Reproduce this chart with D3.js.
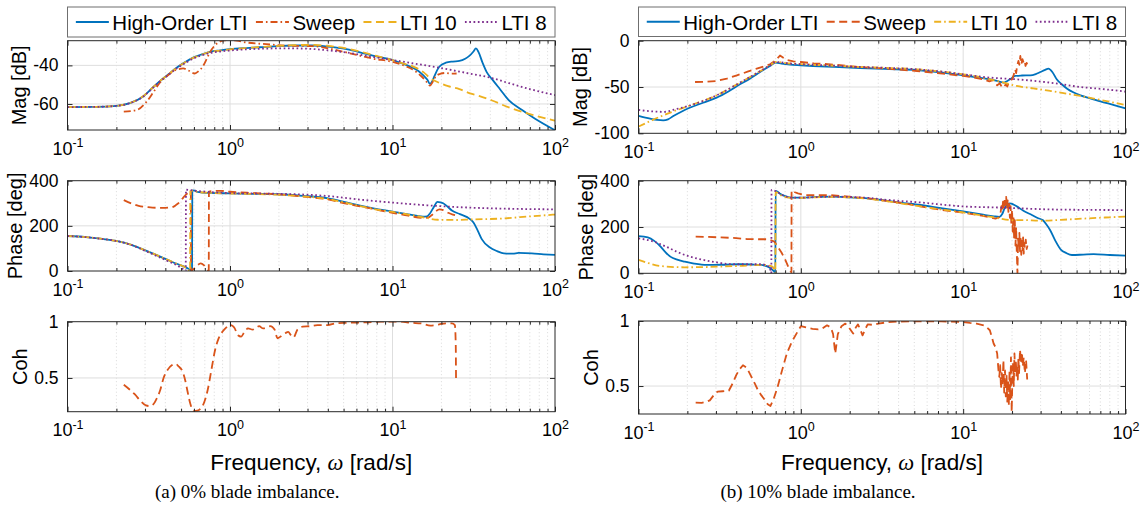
<!DOCTYPE html>
<html><head><meta charset="utf-8">
<script src="https://cdn.jsdelivr.net/npm/d3@7"></script>
<style>
html,body{margin:0;padding:0;background:#fff;}
svg{display:block;font-family:"Liberation Sans",Arial,Helvetica,sans-serif;}
</style></head><body>
<svg id="fig" width="1145" height="511"></svg>
<script>
// ---------- axis ticks and labels ----------
const FREQ_TICKS = [0.1, 1, 10, 100];
const FREQ_EXPONENTS = ["-1", "0", "1", "2"];
const MAG_A_TICKS = [-60, -40];
const MAG_B_TICKS = [-100, -50, 0];
const PHASE_TICKS = [0, 200, 400];
const COH_TICKS = [0.5, 1];
const LEGEND_LABELS = ["High-Order LTI", "Sweep", "LTI 10", "LTI 8"];
const CAPTIONS = ["(a) 0% blade imbalance.", "(b) 10% blade imbalance."];

// ---------- (a) 0% imbalance: [frequency rad/s, value] ----------
const magA_hi = [[0.1,-61.6],[0.15,-61.5],[0.2,-61.0],[0.242,-59.6],[0.292,-56.1],[0.33,-52],[0.37,-48.2],[0.42,-44.5],[0.469,-41.2],[0.53,-38.3],[0.593,-36],[0.67,-34.3],[0.751,-33],[0.87,-32.2],[1,-31.6],[1.25,-31],[1.52,-30.6],[2.0,-30],[2.5,-29.7],[3.2,-29.7],[4.0,-30.3],[5.2,-31.6],[6.3,-33.2],[7.56,-35.0],[10,-37.2],[12,-39.6],[13.3,-41.2],[14.5,-43],[15.5,-45.2],[16.4,-47.5],[17.0,-49.6],[17.5,-48.5],[18.1,-45.6],[19.4,-40.7],[21.3,-38.6],[23.5,-38],[25.8,-37.7],[28,-36.6],[29.7,-35.1],[31.5,-32.8],[32.6,-31.2],[33.8,-33],[35.8,-38.6],[38,-43.5],[41.2,-47.4],[46,-52.5],[51.7,-57.9],[62.4,-63],[75,-67.5],[100,-73.6]];
const magA_sw = [[0.222,-64],[0.266,-63.2],[0.307,-58.8],[0.34,-53.5],[0.37,-49],[0.41,-45.5],[0.447,-43],[0.48,-42],[0.515,-41.6],[0.56,-42.8],[0.607,-44.2],[0.64,-43],[0.682,-40.4],[0.72,-36.5],[0.751,-33.3],[0.8,-30],[0.864,-27.7],[0.93,-27],[1,-26.8],[1.1,-27.2],[1.26,-28.1],[1.67,-29],[2.3,-29.8],[3.2,-30],[4.2,-31.5],[5.2,-33.3],[6.3,-35],[7.6,-36.5],[10,-38.2],[11.5,-39.8],[13.3,-42.1],[15,-45.5],[16.3,-48.8],[17,-50.5],[17.7,-48.5],[18.5,-45.6],[19.8,-44.3],[21.3,-43.9],[23,-44.3],[24.8,-44.2]];
const magA_l10 = [[0.1,-61.6],[0.15,-61.5],[0.2,-61.0],[0.242,-59.5],[0.292,-56],[0.33,-52],[0.37,-48.2],[0.42,-44.5],[0.469,-41.3],[0.53,-38.4],[0.593,-36.1],[0.67,-34.4],[0.751,-33.1],[0.87,-32.3],[1,-31.7],[1.25,-31],[1.52,-30.5],[2.0,-29.9],[2.5,-29.5],[3.2,-29.4],[4.0,-29.9],[5.2,-31.2],[6.3,-32.8],[7.56,-34.6],[10,-37.3],[12,-39.3],[13.3,-40.5],[15.5,-43.5],[17,-46.5],[19.4,-49],[22,-50.8],[25.8,-52.3],[30,-54.5],[34,-55.8],[41,-58.2],[52,-61.8],[70,-65.3],[100,-68.7]];
const magA_l8 = [[0.1,-61.6],[0.15,-61.5],[0.2,-61.0],[0.242,-59.6],[0.292,-56.2],[0.33,-52.2],[0.37,-48.4],[0.42,-44.8],[0.469,-41.6],[0.53,-38.8],[0.593,-36.5],[0.67,-34.8],[0.751,-33.6],[0.87,-32.8],[1,-32.3],[1.25,-31.7],[1.5,-31.4],[2.0,-31.2],[2.5,-31.2],[3.2,-31.5],[4.0,-32.2],[5.2,-33.3],[6.3,-34.5],[7.56,-35.6],[10,-37.2],[13.3,-38.9],[19.4,-41.2],[28,-43.8],[41,-46.6],[52,-49.2],[70,-52.3],[100,-55.4]];

const phA_hi = [[0.1,155],[0.13,150],[0.16,143],[0.2,133],[0.25,115],[0.304,90],[0.36,68],[0.414,49],[0.47,32],[0.536,16],[0.566,6],[0.584,1],[0.586,356],[0.6,357],[0.626,351],[0.75,346],[1,344],[1.4,342],[1.96,340],[2.8,333],[4.02,322],[5.2,304],[6.76,285],[8.2,273],[10,263],[12.5,251],[15.4,241],[16.3,242],[17,255],[18,285],[18.9,306],[19.7,304],[20.5,300],[21.8,285],[23.2,268],[26,252],[30,230],[31.5,215],[33.4,180],[35.5,140],[39.6,105],[44,88],[48.5,78],[55,77],[59.7,80],[72,78],[85,74],[100,71]];
const phA_sw = [[0.222,314],[0.25,298],[0.274,288],[0.31,283],[0.355,280],[0.4,280],[0.437,282],[0.465,292],[0.49,305],[0.52,328],[0.55,345],[0.574,352],[0.576,2],[0.6,10],[0.63,25],[0.66,34],[0.69,26],[0.72,8],[0.74,2],[0.742,352],[0.8,355],[0.88,355],[1,351],[1.43,345],[1.96,340],[2.8,330],[4,317],[5.2,298],[6.8,282],[8.2,270],[10,258],[12.5,245],[15.4,235],[16.5,236],[17.5,248],[18.5,265],[19.5,273],[20.5,270],[22,258],[23.5,250],[25,246]];
const phA_l10 = [[0.1,155],[0.13,150],[0.16,143],[0.2,133],[0.25,115],[0.304,90],[0.36,68],[0.414,49],[0.47,32],[0.536,14],[0.556,4],[0.568,1],[0.57,354],[0.6,356],[0.626,351],[0.75,346],[1,343],[1.4,341],[1.96,338],[2.8,331],[4.02,319],[5.2,302],[6.76,283],[8.2,271],[10,262],[12.5,250],[15.4,238],[19,227],[25,226],[30,228],[48.5,233],[70,242],[100,250]];
const phA_l8 = [[0.1,155],[0.13,150],[0.16,143],[0.2,133],[0.25,114],[0.304,88],[0.36,64],[0.414,44],[0.47,26],[0.51,10],[0.534,1],[0.536,360],[0.6,356],[0.75,350],[1,345],[1.96,342],[3,338],[4,332],[6.8,314],[10,303],[18.9,288],[31.6,280],[50,276],[100,273]];

const cohA_sw = [[0.222,0.44],[0.24,0.4],[0.26,0.353],[0.28,0.3],[0.304,0.256],[0.32,0.25],[0.337,0.265],[0.355,0.32],[0.373,0.397],[0.39,0.5],[0.414,0.574],[0.44,0.615],[0.46,0.626],[0.485,0.6],[0.51,0.559],[0.53,0.48],[0.55,0.368],[0.57,0.27],[0.595,0.206],[0.63,0.21],[0.677,0.25],[0.7,0.3],[0.73,0.397],[0.77,0.58],[0.81,0.75],[0.85,0.85],[0.9,0.912],[0.95,0.95],[1.0,0.97],[1.06,0.95],[1.12,0.88],[1.17,0.868],[1.23,0.91],[1.29,0.94],[1.38,0.93],[1.51,0.96],[1.6,0.94],[1.77,0.96],[1.88,0.93],[1.96,0.853],[2.1,0.88],[2.2,0.9],[2.28,0.91],[2.37,0.88],[2.46,0.86],[2.6,0.93],[2.8,0.956],[3.1,0.96],[3.45,0.97],[4,0.97],[4.46,0.985],[5.2,0.99],[6.8,0.994],[8.5,1.0],[11.3,1.0],[13,0.99],[15,0.985],[17.1,0.965],[18.5,0.97],[19.9,0.98],[21.5,0.985],[23.2,0.985],[24.2,0.97],[24.5,0.8],[24.6,0.5]];

// ---------- (b) 10% imbalance ----------
const magB_hi = [[0.1,-81.3],[0.118,-84.2],[0.13,-85.5],[0.142,-86],[0.152,-85],[0.164,-81.3],[0.18,-77.5],[0.203,-73],[0.25,-67],[0.303,-61.5],[0.36,-54.5],[0.422,-47.1],[0.48,-41.5],[0.535,-36.3],[0.6,-30.5],[0.646,-27.3],[0.70,-23.7],[0.76,-24.8],[0.857,-25.9],[1.0,-26.6],[1.19,-27.3],[1.6,-28.3],[2.32,-29.5],[3.3,-30.5],[5.2,-31.7],[7.5,-34.5],[10,-37.4],[12.5,-39.8],[14.7,-41.7],[16.5,-44],[17.8,-45.3],[18.7,-43.5],[19.5,-41.7],[20.9,-38.1],[23,-37.6],[25.9,-37.4],[28,-36],[29.9,-33.8],[32,-31.5],[33.5,-30.2],[35.5,-34],[37.7,-41.7],[40.5,-47],[43.7,-51.8],[48,-56],[52.8,-59],[60,-62],[70,-65.5],[85,-69.5],[100,-73]];
const magB_sw = [[0.223,-44.6],[0.26,-44.4],[0.303,-43.5],[0.35,-41],[0.404,-37.4],[0.47,-33.5],[0.535,-30.2],[0.6,-27.5],[0.646,-25.5],[0.7,-21],[0.744,-16],[0.78,-18.5],[0.82,-20.9],[0.9,-22.3],[1,-23],[1.2,-24.5],[1.52,-25.5],[2.32,-28.4],[3.3,-30],[5.2,-32.7],[7.5,-35.5],[10,-38.1],[11.5,-39.5],[13.3,-41.7],[14.5,-44],[15.2,-42.5],[16.2,-48.2],[16.8,-46],[17.3,-50],[17.8,-50.7],[18.3,-47],[18.7,-49.5],[19.1,-45.3],[19.6,-43],[20.0,-41.7],[20.4,-38],[20.9,-30.9],[21.2,-35],[21.5,-27],[21.9,-21.9],[22.2,-26],[22.5,-16.5],[22.8,-25.5],[23.2,-20],[23.6,-24],[24.0,-21.9],[24.2,-27.3],[24.6,-24],[24.9,-26]];
const magB_l10 = [[0.1,-92.8],[0.142,-80.6],[0.203,-70.5],[0.303,-59],[0.422,-45.3],[0.535,-35],[0.646,-26.6],[0.70,-23],[0.857,-24.6],[1,-25.3],[1.52,-26.8],[2.32,-28.4],[3.3,-29.3],[5.2,-30.9],[7.5,-33.5],[10,-36.3],[14.7,-41.7],[17.8,-45.3],[21.3,-48.9],[27,-51.5],[34.4,-54.3],[52.8,-59.7],[75,-65],[100,-69.4]];
const magB_l8 = [[0.1,-74.8],[0.125,-76.5],[0.145,-76.8],[0.165,-74.5],[0.203,-70.5],[0.303,-59],[0.422,-45.3],[0.535,-35],[0.646,-26.6],[0.70,-23],[0.857,-24.6],[1,-25.3],[1.52,-26.8],[2.32,-28.4],[3.3,-29.3],[5.2,-30.9],[7.5,-33.5],[10,-36.3],[14.7,-39.9],[21.3,-41.7],[34.4,-45.3],[52.8,-50],[75,-52.5],[100,-55]];

const phB_hi = [[0.1,161],[0.114,155],[0.125,140],[0.134,122],[0.145,95],[0.157,72],[0.175,58],[0.193,50],[0.22,42],[0.263,36],[0.33,37],[0.42,39],[0.5,38],[0.572,36],[0.62,30],[0.65,22],[0.68,10],[0.697,1],[0.699,356],[0.72,352],[0.74,345],[0.8,333],[0.87,327],[1,327],[1.2,329],[1.53,331],[2,328],[2.58,324],[3.09,317],[4.1,305],[5.44,295],[7.3,281],[10,267],[13,254],[15.5,246],[16.7,244],[17.4,256],[18,281],[19.4,302],[20.3,298],[21.5,288],[23.5,270],[26.5,252],[29,238],[30.9,230],[32.5,212],[34.3,187],[37,140],[40.1,101],[43,88],[46.8,79],[55,81],[63.6,83],[80,79],[100,76]];
const phB_sw = [[0.225,158],[0.27,157],[0.322,155],[0.4,152],[0.466,148],[0.55,147],[0.635,147],[0.687,137],[0.72,115],[0.76,90],[0.8,60],[0.84,25],[0.875,3],[0.877,358],[0.92,350],[0.96,345],[1.05,338],[1.53,338],[2.58,324],[3.09,316],[4.33,302],[5.44,289],[7.3,274],[10,262],[13,249],[15.8,236],[16.5,240],[16.8,245],[17.0,262],[17.2,290],[17.4,270],[17.6,310],[17.8,285],[18.0,325],[18.2,295],[18.4,330],[18.6,280],[18.8,315],[19.0,265],[19.2,300],[19.4,240],[19.6,290],[19.8,215],[20.0,275],[20.2,180],[20.4,250],[20.6,150],[20.8,230],[21.0,120],[21.2,200],[21.4,90],[21.6,0],[21.8,150],[22.0,110],[22.2,175],[22.4,95],[22.6,160],[22.8,80],[23.0,140],[23.2,100],[23.4,155],[23.6,85],[23.8,130],[24.0,110],[24.3,145],[24.6,105],[24.9,120]];
const phB_l10 = [[0.1,58],[0.115,44],[0.134,32],[0.193,26],[0.26,27],[0.322,29],[0.42,32],[0.572,36],[0.64,33],[0.67,28],[0.69,10],[0.697,1],[0.699,352],[0.74,340],[0.8,330],[0.87,326],[1,326],[1.53,330],[2.58,322],[3.09,315],[5.44,289],[7.3,276],[10,263],[13,250],[15.6,241],[16.7,237],[20,230],[22.7,230],[30.9,227],[40,231],[57.6,237],[80,242],[100,245]];
const phB_l8 = [[0.1,151],[0.12,140],[0.148,115],[0.17,95],[0.193,79],[0.22,67],[0.25,58],[0.3,48],[0.36,40],[0.45,39],[0.572,39],[0.62,33],[0.645,22],[0.658,1],[0.66,360],[0.7,355],[0.74,345],[0.8,333],[0.87,327],[1,327],[1.53,331],[2.58,326],[3.09,320],[5.44,306],[10,289],[16.7,284],[34,276],[60,274],[100,273]];

const cohB_sw = [[0.225,0.372],[0.245,0.37],[0.263,0.38],[0.275,0.39],[0.284,0.413],[0.295,0.44],[0.307,0.457],[0.33,0.46],[0.36,0.464],[0.38,0.52],[0.4,0.584],[0.42,0.63],[0.44,0.66],[0.465,0.64],[0.49,0.584],[0.52,0.52],[0.544,0.469],[0.57,0.43],[0.6,0.393],[0.625,0.36],[0.65,0.347],[0.68,0.4],[0.72,0.495],[0.77,0.63],[0.82,0.75],[0.88,0.84],[0.94,0.903],[1.0,0.96],[1.08,0.95],[1.18,0.94],[1.28,0.935],[1.35,0.94],[1.45,0.967],[1.53,0.95],[1.58,0.9],[1.63,0.75],[1.69,0.9],[1.78,0.96],[1.88,0.98],[1.98,0.95],[2.1,0.903],[2.18,0.95],[2.25,0.974],[2.33,0.93],[2.4,0.89],[2.5,0.94],[2.58,0.974],[2.8,0.97],[3.0,0.98],[3.4,0.99],[3.9,0.995],[5,0.997],[7.3,0.997],[10,0.992],[11,0.985],[12.1,0.98],[13.4,0.967],[14.0,0.95],[14.6,0.929],[15.0,0.88],[15.4,0.827],[15.8,0.8],[16.2,0.75],[16.5,0.62],[16.7,0.57],[16.9,0.66],[17.1,0.48],[17.3,0.6],[17.5,0.52],[17.7,0.7],[17.9,0.45],[18.1,0.62],[18.3,0.42],[18.5,0.58],[18.7,0.38],[18.9,0.55],[19.1,0.35],[19.3,0.62],[19.5,0.4],[19.7,0.72],[19.9,0.3],[20.1,0.55],[20.3,0.68],[20.5,0.5],[20.7,0.75],[20.9,0.6],[21.1,0.7],[21.3,0.58],[21.5,0.66],[21.7,0.55],[21.9,0.72],[22.1,0.6],[22.4,0.78],[22.7,0.68],[23.0,0.76],[23.3,0.65],[23.6,0.72],[24.0,0.6],[24.4,0.7],[24.8,0.55]];

// ---------- styling ----------
const COLOR = {hi: "#0072BD", sw: "#D95319", l10: "#EDB120", l8: "#7E2F8E"};
const DASH = {solid: null, dashed: "8,4.5", dashdot: "7,3,1.6,3", dotted: "1.7,2.6"};
const LW = 1.8;
const INK = "#262626";
const SERIF = "'Liberation Serif','DejaVu Serif',serif";

const panels = [
  { x0: 67.5, x1: 555, legendY: [7, 37],
    legendDash: ["solid", "dashdot", "dashed", "dotted"],
    plots: [
      { y0: 40.7, y1: 130, dom: [-73.5, -27.2], ticks: MAG_A_TICKS, label: "Mag [dB]",
        series: [[magA_hi, "hi", "solid"], [magA_sw, "sw", "dashdot"], [magA_l10, "l10", "dashed"], [magA_l8, "l8", "dotted"]] },
      { y0: 180.7, y1: 271, dom: [0, 400], ticks: PHASE_TICKS, label: "Phase [deg]",
        series: [[phA_hi, "hi", "solid"], [phA_sw, "sw", "dashed"], [phA_l10, "l10", "dashdot"], [phA_l8, "l8", "dotted"]] },
      { y0: 321.7, y1: 411.7, dom: [0.2, 1], ticks: COH_TICKS, label: "Coh",
        series: [[cohA_sw, "sw", "dashed"]] }
    ], caption: CAPTIONS[0] },
  { x0: 638.5, x1: 1125.5, legendY: [7, 36.5],
    legendDash: ["solid", "dashed", "dashdot", "dotted"],
    plots: [
      { y0: 40.7, y1: 133.3, dom: [-100, 0], ticks: MAG_B_TICKS, label: "Mag [dB]",
        series: [[magB_hi, "hi", "solid"], [magB_sw, "sw", "dashed", true], [magB_l10, "l10", "dashdot"], [magB_l8, "l8", "dotted"]] },
      { y0: 180.7, y1: 273.3, dom: [0, 400], ticks: PHASE_TICKS, label: "Phase [deg]",
        series: [[phB_hi, "hi", "solid"], [phB_sw, "sw", "dashed", true], [phB_l10, "l10", "dashdot"], [phB_l8, "l8", "dotted"]] },
      { y0: 321, y1: 414, dom: [0.285, 1], ticks: COH_TICKS, label: "Coh",
        series: [[cohB_sw, "sw", "dashed", true]] }
    ], caption: CAPTIONS[1] }
];

const svg = d3.select("#fig");
svg.append("rect").attr("width", 1145).attr("height", 511).attr("fill", "#fff");

const minorFreqs = [];
[0.1, 1, 10].forEach(d => { for (let k = 2; k <= 9; k++) minorFreqs.push(+(d * k).toPrecision(3)); });

let clipId = 0;
function drawPlot(panel, p) {
  const x = d3.scaleLog().domain([0.1, 100]).range([panel.x0, panel.x1]);
  const y = d3.scaleLinear().domain(p.dom).range([p.y1, p.y0]);
  const g = svg.append("g");

  // grid
  g.append("g").selectAll("line").data(minorFreqs).join("line")
    .attr("x1", d => x(d)).attr("x2", d => x(d)).attr("y1", p.y0).attr("y2", p.y1)
    .attr("stroke", "#cfcfcf").attr("stroke-width", 0.8).attr("stroke-dasharray", "1,2.5");
  g.append("g").selectAll("line").data([1, 10]).join("line")
    .attr("x1", d => x(d)).attr("x2", d => x(d)).attr("y1", p.y0).attr("y2", p.y1)
    .attr("stroke", "#dedede").attr("stroke-width", 1);
  g.append("g").selectAll("line").data(p.ticks.filter(t => t > p.dom[0] && t < p.dom[1])).join("line")
    .attr("x1", panel.x0).attr("x2", panel.x1).attr("y1", d => y(d)).attr("y2", d => y(d))
    .attr("stroke", "#dedede").attr("stroke-width", 1);

  // series
  const id = "clip" + (clipId++);
  svg.append("clipPath").attr("id", id).append("rect")
    .attr("x", panel.x0).attr("y", p.y0).attr("width", panel.x1 - panel.x0).attr("height", p.y1 - p.y0);
  const lines = g.append("g").attr("clip-path", `url(#${id})`);
  p.series.forEach(([data, key, dash, raw]) => {
    const gen = d3.line().x(d => x(d[0])).y(d => y(d[1]))
      .curve(raw ? d3.curveLinear : d3.curveMonotoneX);
    lines.append("path").datum(data).attr("d", gen)
      .attr("fill", "none").attr("stroke", COLOR[key]).attr("stroke-width", LW)
      .attr("stroke-dasharray", DASH[dash]).attr("stroke-linejoin", "round");
  });

  // ticks (inside) on all four sides
  const tickStyle = s => { s.select(".domain").remove(); s.selectAll("line").attr("stroke", INK); s.selectAll("text").remove(); };
  g.append("g").attr("transform", `translate(0,${p.y1})`).call(d3.axisBottom(x).tickValues(FREQ_TICKS).tickSizeInner(-5).tickSizeOuter(0)).call(tickStyle);
  g.append("g").attr("transform", `translate(0,${p.y1})`).call(d3.axisBottom(x).tickValues(minorFreqs).tickSizeInner(-3).tickSizeOuter(0)).call(tickStyle);
  g.append("g").attr("transform", `translate(0,${p.y0})`).call(d3.axisTop(x).tickValues(FREQ_TICKS).tickSizeInner(-5).tickSizeOuter(0)).call(tickStyle);
  g.append("g").attr("transform", `translate(0,${p.y0})`).call(d3.axisTop(x).tickValues(minorFreqs).tickSizeInner(-3).tickSizeOuter(0)).call(tickStyle);
  g.append("g").attr("transform", `translate(${panel.x1},0)`).call(d3.axisRight(y).tickValues(p.ticks).tickSizeInner(-5).tickSizeOuter(0)).call(tickStyle);

  // y axis with labels
  const ya = g.append("g").attr("transform", `translate(${panel.x0},0)`)
    .call(d3.axisLeft(y).tickValues(p.ticks).tickSizeInner(-5).tickSizeOuter(0).tickPadding(9).tickFormat(d3.format("")));
  ya.select(".domain").remove();
  ya.selectAll("line").attr("stroke", INK);
  ya.attr("font-family", null).attr("font-size", null);
  ya.selectAll("text").attr("font-size", 17.5).attr("fill", "#000").text(d => String(d));
  let maxw = 0;
  ya.selectAll("text").each(function () { maxw = Math.max(maxw, this.getBBox().width); });

  // x axis labels 10^n
  const xa = g.append("g").attr("transform", `translate(0,${p.y1})`)
    .call(d3.axisBottom(x).tickValues(FREQ_TICKS).tickSize(0).tickPadding(12));
  xa.select(".domain").remove();
  xa.attr("font-family", null).attr("font-size", null);
  xa.selectAll("text").attr("font-size", 18).attr("fill", "#000").each(function (d) {
    const t = d3.select(this).text(null);
    t.append("tspan").text("10");
    t.append("tspan").attr("font-size", 12.5).attr("dy", -7.5).text(FREQ_EXPONENTS[FREQ_TICKS.indexOf(d)]);
  });

  // frame
  g.append("rect").attr("x", panel.x0).attr("y", p.y0)
    .attr("width", panel.x1 - panel.x0).attr("height", p.y1 - p.y0)
    .attr("fill", "none").attr("stroke", INK).attr("stroke-width", 1);

  // y label
  const lx = panel.x0 - 9 - maxw - 4 - 10;
  g.append("text").attr("transform", `translate(${lx},${(p.y0 + p.y1) / 2}) rotate(-90)`)
    .attr("text-anchor", "middle").attr("dominant-baseline", "central")
    .attr("font-size", 20).attr("fill", "#000").text(p.label);
}

function drawLegend(panel) {
  const [ly0, ly1] = panel.legendY;
  const lg = svg.append("g");
  lg.append("rect").attr("x", panel.x0).attr("y", ly0).attr("width", panel.x1 - panel.x0).attr("height", ly1 - ly0)
    .attr("fill", "#fff").attr("stroke", "#6f6f6f").attr("stroke-width", 1);
  const keys = ["hi", "sw", "l10", "l8"];
  const sample = 33, gap = 3.5, fs = 20.5;
  const items = lg.selectAll("g.item").data(LEGEND_LABELS).join("g").attr("class", "item");
  items.append("text").attr("font-size", fs).attr("fill", "#000").attr("dominant-baseline", "central").text(d => d);
  const widths = [];
  items.select("text").each(function () { widths.push(this.getComputedTextLength()); });
  const total = d3.sum(widths) + keys.length * (sample + gap);
  const space = (panel.x1 - panel.x0 - total) / (keys.length + 1);
  let cx = panel.x0 + space;
  const cy = (ly0 + ly1) / 2;
  items.each(function (d, i) {
    const it = d3.select(this);
    it.insert("line", "text").attr("x1", cx).attr("x2", cx + sample).attr("y1", cy).attr("y2", cy)
      .attr("stroke", COLOR[keys[i]]).attr("stroke-width", LW).attr("stroke-dasharray", DASH[panel.legendDash[i]]);
    it.select("text").attr("x", cx + sample + gap).attr("y", cy + 0.5);
    cx += sample + gap + widths[i] + space;
  });
}

panels.forEach(panel => {
  panel.plots.forEach(p => drawPlot(panel, p));
  drawLegend(panel);
  const cx = (panel.x0 + panel.x1) / 2;
  const xl = svg.append("text").attr("x", cx).attr("y", 470).attr("text-anchor", "middle")
    .attr("font-size", 22.5).attr("fill", "#000");
  xl.append("tspan").text("Frequency, ");
  xl.append("tspan").attr("font-family", SERIF).attr("font-style", "italic").text("ω");
  xl.append("tspan").text(" [rad/s]");
  svg.append("text").attr("x", cx - 64).attr("y", 498).attr("text-anchor", "middle")
    .attr("font-family", SERIF).attr("font-size", 19)
    .attr("fill", "#000").text(panel.caption);
});
</script>
</body></html>
